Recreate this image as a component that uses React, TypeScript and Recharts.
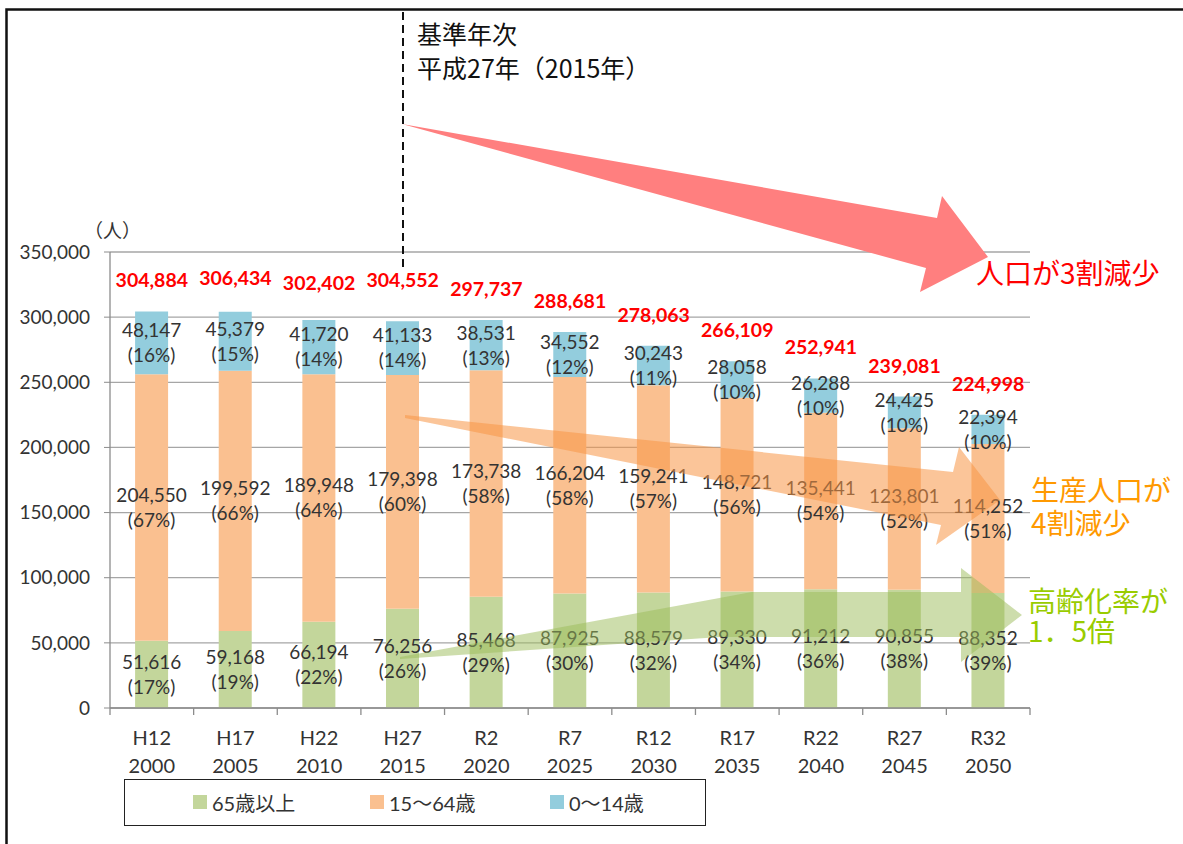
import React from 'react';
import { ComposedChart, Bar, Line, XAxis, YAxis, CartesianGrid, LabelList } from 'recharts';

const eraLabels = ['H12', 'H17', 'H22', 'H27', 'R2', 'R7', 'R12', 'R17', 'R22', 'R27', 'R32'];
const yearLabels = ['2000', '2005', '2010', '2015', '2020', '2025', '2030', '2035', '2040', '2045', '2050'];
const elderly = [51616, 59168, 66194, 76256, 85468, 87925, 88579, 89330, 91212, 90855, 88352];
const elderlyPct = [17, 19, 22, 26, 29, 30, 32, 34, 36, 38, 39];
const working = [204550, 199592, 189948, 179398, 173738, 166204, 159241, 148721, 135441, 123801, 114252];
const workingPct = [67, 66, 64, 60, 58, 58, 57, 56, 54, 52, 51];
const children = [48147, 45379, 41720, 41133, 38531, 34552, 30243, 28058, 26288, 24425, 22394];
const childrenPct = [16, 15, 14, 14, 13, 12, 11, 10, 10, 10, 10];
const totals = [304884, 306434, 302402, 304552, 297737, 288681, 278063, 266109, 252941, 239081, 224998];
const yTicks = [0, 50000, 100000, 150000, 200000, 250000, 300000, 350000];
const seriesNames = ['65歳以上', '15〜64歳', '0〜14歳'];

const COLORS = { elderly: '#c3d69b', working: '#fac090', children: '#93cddd' };
const FONT = "Lato, 'Noto Sans CJK JP', sans-serif";
const JP = "'Noto Sans CJK JP', sans-serif";
const TEXT = '#333333';

const data = eraLabels.map((era, i) => ({
  era,
  elderly: elderly[i],
  working: working[i],
  children: children[i],
  total: totals[i],
}));

const fmt = (v: number) => Number(v).toLocaleString('en-US');

const segLabel = (pcts: number[]) => (props: any) => {
  const { x, y, width, height, value, index } = props;
  const cx = Number(x) + Number(width) / 2;
  const cy = Number(y) + Number(height) / 2;
  return (
    <text textAnchor="middle" fontFamily={FONT} fontSize={19} fill={TEXT}>
      <tspan x={cx} y={cy - 12.5} dy="0.36em">{fmt(value)}</tspan>
      <tspan x={cx} y={cy + 12.5} dy="0.36em">({pcts[index]}%)</tspan>
    </text>
  );
};

const totalLabel = (props: any) => {
  const { x, y, value } = props;
  return (
    <text x={x} y={Number(y) - 31} dy="0.36em" textAnchor="middle" fontFamily={FONT} fontWeight={700} fontSize={19.5} fill="#ff0000">
      {fmt(value)}
    </text>
  );
};

const XTick = (props: any) => {
  const { x, y, payload } = props;
  const i = payload.index ?? props.index;
  const half = payload.offset || 41.82;
  return (
    <g>
      <line x1={x - half} y1={y} x2={x - half} y2={y + 7} stroke="#8c8c8c" strokeWidth={1.3} />
      {i === eraLabels.length - 1 && (
        <line x1={x + half} y1={y} x2={x + half} y2={y + 7} stroke="#8c8c8c" strokeWidth={1.3} />
      )}
      <text x={x} y={y + 37} textAnchor="middle" fontFamily={FONT} fontSize={20} fill={TEXT}>{payload.value}</text>
      <text x={x} y={y + 65} textAnchor="middle" fontFamily={FONT} fontSize={20} fill={TEXT}>{yearLabels[i]}</text>
    </g>
  );
};

const legendItems = [
  { name: seriesNames[0], color: COLORS.elderly, left: 68 },
  { name: seriesNames[1], color: COLORS.working, left: 245 },
  { name: seriesNames[2], color: COLORS.children, left: 425 },
];

export default function App() {
  return (
    <div style={{ position: 'absolute', left: 0, top: 0, width: 1183, height: 844, background: '#fff', overflow: 'hidden' }}>
      <div style={{ position: 'absolute', left: 0, top: 0 }}>
        <ComposedChart width={1183} height={844} data={data} margin={{ top: 252, right: 153, bottom: 76, left: 0 }} barCategoryGap="30%">
          <CartesianGrid vertical={false} stroke="#a6a6a6" strokeWidth={1.3} />
          <XAxis dataKey="era" height={60} tick={<XTick />} tickLine={false} tickSize={0} tickMargin={0} axisLine={{ stroke: '#8c8c8c', strokeWidth: 1.3 }} interval={0} />
          <YAxis width={110} domain={[0, 350000]} ticks={yTicks} tickFormatter={fmt} tickSize={6} tickMargin={14}
            tickLine={{ stroke: '#8c8c8c' }} axisLine={{ stroke: '#8c8c8c', strokeWidth: 1.3 }}
            tick={{ fontFamily: FONT, fontSize: 19, fill: TEXT }} />
          <Bar dataKey="elderly" name={seriesNames[0]} stackId="a" fill={COLORS.elderly} isAnimationActive={false}>
            <LabelList dataKey="elderly" content={segLabel(elderlyPct)} />
          </Bar>
          <Bar dataKey="working" name={seriesNames[1]} stackId="a" fill={COLORS.working} isAnimationActive={false}>
            <LabelList dataKey="working" content={segLabel(workingPct)} />
          </Bar>
          <Bar dataKey="children" name={seriesNames[2]} stackId="a" fill={COLORS.children} isAnimationActive={false}>
            <LabelList dataKey="children" content={segLabel(childrenPct)} />
          </Bar>
          <Line dataKey="total" stroke="none" dot={false} activeDot={false} isAnimationActive={false} legendType="none">
            <LabelList dataKey="total" content={totalLabel} />
          </Line>
        </ComposedChart>
      </div>

      <svg width={1183} height={844} style={{ position: 'absolute', left: 0, top: 0, pointerEvents: 'none' }}>
        <rect x={6.5} y={9.5} width={1300} height={1000} fill="none" stroke="#111" strokeWidth={2.5} />
        <line x1={403} y1={12} x2={403} y2={267} stroke="#111" strokeWidth={2} strokeDasharray="8 5" />
        <text fontFamily={JP} fontSize={25} fill="#111">
          <tspan x={417} y={44}>基準年次</tspan>
          <tspan x={417} y={78}>平成27年（2015年）</tspan>
        </text>
        <text x={84} y={238} fontFamily={JP} fontSize={19} fill={TEXT}>（人）</text>

        <polygon points="402,124 937,218 942,196 988,257 920,292 926,268" fill="#ff7f7f" />
        <polygon points="405,415 953,472 959,447 1000,500 936,545 941,525 405,418" fill="#f79646" fillOpacity={0.55} />
        <polygon points="400,657 752,592 961,592 961,568 1022,615 961,662 961,637 720,637 400,659" fill="#9bbb59" fillOpacity={0.5} />

        <text x={976} y={284} fontFamily={JP} fontSize={28} fill="#ff0000">人口が3割減少</text>
        <text fontFamily={JP} fontSize={28} fill="#ff9900">
          <tspan x={1031} y={501}>生産人口が</tspan>
          <tspan x={1031} y={534}>4割減少</tspan>
        </text>
        <text fontFamily={JP} fontSize={28} fill="#99cc00">
          <tspan x={1028} y={612}>高齢化率が</tspan>
          <tspan x={1028} y={642}>1．5倍</tspan>
        </text>
      </svg>

      <div style={{ position: 'absolute', left: 124, top: 779, width: 582, height: 47, boxSizing: 'border-box', border: '1.5px solid #222', background: '#fff' }}>
        {legendItems.map((it) => (
          <div key={it.name} style={{ position: 'absolute', left: it.left, top: 0, height: 44, display: 'flex', alignItems: 'center' }}>
            <span style={{ display: 'inline-block', width: 14, height: 14, background: it.color, marginRight: 5 }} />
            <span style={{ fontFamily: FONT, fontSize: 20, color: TEXT, whiteSpace: 'nowrap' }}>{it.name}</span>
          </div>
        ))}
      </div>
    </div>
  );
}
